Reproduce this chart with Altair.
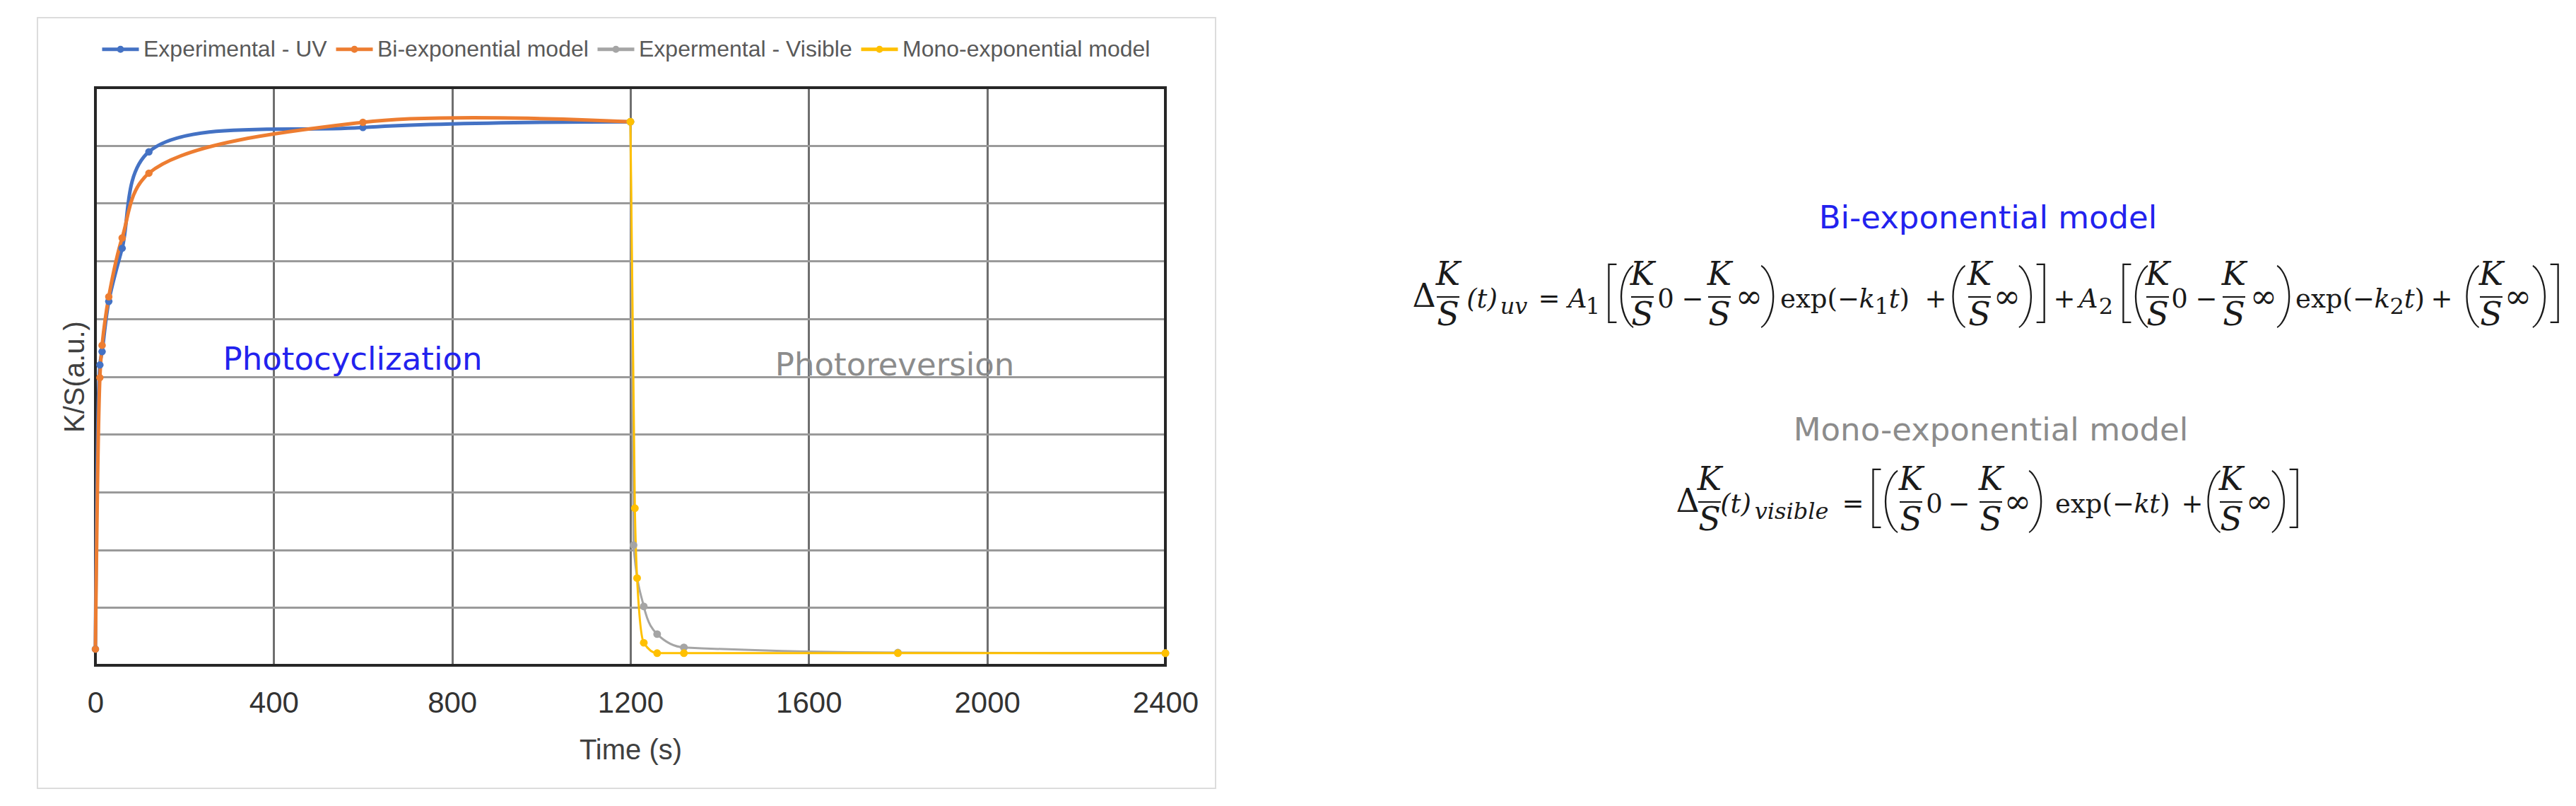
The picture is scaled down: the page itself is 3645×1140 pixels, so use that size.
import altair as alt
import pandas as pd

# ---------------- values ----------------
series_names = ["Experimental - UV", "Bi-exponential model",
                "Expermental - Visible", "Mono-exponential model"]
series_colors = ["#4472C4", "#ED7D31", "#A5A5A5", "#FFC000"]

uv_time = [0, 10, 15, 30, 60, 120, 600, 1200]
uv_experimental = [0.28, 5.20, 5.43, 6.30, 7.22, 8.89, 9.31, 9.41]
uv_biexp_model = [0.28, 4.98, 5.54, 6.38, 7.40, 8.52, 9.40, 9.41]

vis_exp_time = [1200, 1207, 1230, 1260, 1320, 1800, 2400]
vis_experimental = [9.41, 2.08, 1.02, 0.54, 0.31, 0.22, 0.21]

vis_model_time = [1200, 1210, 1215, 1230, 1260, 1320, 1800, 2400]
vis_monoexp_model = [9.41, 2.72, 1.51, 0.39, 0.21, 0.21, 0.21, 0.21]

x_tick_values = [0, 400, 800, 1200, 1600, 2000, 2400]
y_grid_values = [0, 1, 2, 3, 4, 5, 6, 7, 8, 9, 10]

# ---------------- layout ----------------
W, H = 1514, 817          # plot area
X0, Y0 = 135, 124         # page position of plot area
T_MAX, V_MAX = 2400, 10


def to_t(px):
    return (px - X0) * T_MAX / W


def to_v(py):
    return (Y0 + H - py) * V_MAX / H


LAB = "Liberation Sans, Arial, sans-serif"
SANS = "DejaVu Sans, Verdana, sans-serif"
SERIF = "DejaVu Serif, serif"
BLUE_TXT = "#2222ee"
GRAY_TXT = "#8c8c8c"
EQ_COLOR = "#1a1a1a"

series_data = pd.concat([
    pd.DataFrame({"t": uv_time, "v": uv_experimental, "series": series_names[0]}),
    pd.DataFrame({"t": uv_time, "v": uv_biexp_model, "series": series_names[1]}),
    pd.DataFrame({"t": vis_exp_time, "v": vis_experimental, "series": series_names[2]}),
    pd.DataFrame({"t": vis_model_time, "v": vis_monoexp_model, "series": series_names[3]}),
], ignore_index=True)

x_axis = alt.Axis(values=x_tick_values, title="Time (s)", grid=True, gridColor="#6f6f6f",
                  gridWidth=3, domain=False, ticks=False, tickSize=0, labelFont=LAB,
                  labelFontSize=42, labelColor="#333333", labelPadding=33, labelFlush=False,
                  labelOverlap=False, format="d", titleFont=LAB, titleFontSize=40,
                  titleFontWeight="normal", titleColor="#404040", titlePadding=26)
y_axis = alt.Axis(values=y_grid_values, title="K/S(a.u.)", grid=True, gridColor="#9a9a9a",
                  gridWidth=3, domain=False, ticks=False, tickSize=0, labels=False,
                  titleFont=LAB, titleFontSize=40, titleFontWeight="normal",
                  titleColor="#404040", titlePadding=9)
x_scale = alt.Scale(domain=[0, T_MAX], nice=False, zero=False)
y_scale = alt.Scale(domain=[0, V_MAX], nice=False, zero=False)
X = alt.X("t:Q", scale=x_scale, axis=x_axis)
Y = alt.Y("v:Q", scale=y_scale, axis=y_axis)

legend = alt.Legend(
    title=None, orient="none", legendX=7, legendY=-83, direction="horizontal",
    symbolType="M-1,0L1,0M-0.1,0A0.1,0.1,0,1,1,0.1,0A0.1,0.1,0,1,1,-0.1,0",
    symbolSize=2704, symbolStrokeWidth=5, labelFont=LAB, labelFontSize=32,
    labelColor="#595959", labelOffset=4, columnPadding=2, labelLimit=1000,
)
series_scale = alt.Scale(domain=series_names, range=series_colors)
stroke = alt.Stroke("series:N", scale=series_scale, legend=legend)
fill = alt.Fill("series:N", scale=series_scale, legend=None)

base = alt.Chart(series_data)
thick = base.transform_filter(alt.FieldOneOfPredicate(field="series", oneOf=series_names[:2]))
thin = base.transform_filter(alt.FieldOneOfPredicate(field="series", oneOf=series_names[2:]))

thick_lines = thick.mark_line(interpolate="catmull-rom", strokeWidth=5).encode(x=X, y=Y, stroke=stroke)
thick_pts = thick.mark_circle(size=110, opacity=1).encode(x=X, y=Y, fill=fill)
thin_lines = thin.mark_line(interpolate="monotone", strokeWidth=3).encode(x=X, y=Y, stroke=stroke)
thin_pts = thin.mark_circle(size=120, opacity=1).encode(x=X, y=Y, fill=fill)

one = pd.DataFrame({"k": [0]})
frame = alt.Chart(one).mark_rect(filled=False, stroke="#dcdcdc", strokeWidth=2).encode(
    x=alt.value(-82), x2=alt.value(1585), y=alt.value(-99), y2=alt.value(991))
border = alt.Chart(one).mark_rect(filled=False, stroke="#262626", strokeWidth=4).encode(
    x=alt.value(0), x2=alt.value(W), y=alt.value(0), y2=alt.value(H))

# ---------------- text annotations ----------------
blue_txt = pd.DataFrame({"text": ["Photocyclization", "Bi-exponential model"],
                         "t": [to_t(499), to_t(2813)], "v": [to_v(523), to_v(323)]})
gray_txt = pd.DataFrame({"text": ["Photoreversion", "Mono-exponential model"],
                         "t": [to_t(1266), to_t(2817)], "v": [to_v(531), to_v(623)]})
blue_layer = alt.Chart(blue_txt).mark_text(font=SANS, fontSize=45, color=BLUE_TXT, align="center",
                                           baseline="alphabetic").encode(x=X, y=Y, text="text:N")
gray_layer = alt.Chart(gray_txt).mark_text(font=SANS, fontSize=45, color=GRAY_TXT, align="center",
                                           baseline="alphabetic").encode(x=X, y=Y, text="text:N")

# ---------------- equations (small typesetter) ----------------
MAIN, SUB, FRAC, BIG, DELTA, INF = 37, 32, 46, 88, 46, 46
OFFSET = {"r": 15, "i": 15, "d": 14, "inf": 15, "sub": 24, "subi": 24,
          "fracK": -17, "fracS": 40, "big": 24}
eq_rows, bar_rows = [], []


def put(kind, text, cx, bar):
    if kind == "frac":
        put("fracK", "K", cx, bar)
        put("fracS", "S", cx, bar)
        bar_rows.append({"t": to_t(cx - 16), "t2": to_t(cx + 16), "v": to_v(bar)})
        return
    eq_rows.append({"kind": kind, "text": text, "t": to_t(cx), "v": to_v(bar + OFFSET[kind])})


def put_exp(x0, bar, digit):
    parts = [("r", "exp(\u2212", 3.024 * MAIN), ("i", "k", 0.58 * MAIN)]
    if digit:
        parts.append(("sub", digit, 0.64 * SUB))
    parts += [("i", "t", 0.40 * MAIN), ("r", ")", 0.39 * MAIN)]
    x = x0
    for kind, text, adv in parts:
        put(kind, text, x + adv / 2, bar)
        x += adv


INFTY = "\u221e"
eq1 = [("d", "\u0394", 2015), ("frac", "", 2049), ("i", "(t)", 2097), ("subi", "uv", 2142),
       ("r", "=", 2192), ("i", "A", 2232), ("sub", "1", 2254),
       ("big", "[(", 2290), ("frac", "", 2324), ("r", "0", 2357),
       ("r", "\u2212", 2395), ("frac", "", 2433), ("inf", INFTY, 2475), ("big", ")", 2504),
       ("exp", "1", 2519),
       ("r", "+", 2739), ("big", "(", 2769), ("frac", "", 2801), ("inf", INFTY, 2840),
       ("big", ")]", 2878),
       ("r", "+", 2921), ("i", "A", 2955), ("sub", "2", 2980),
       ("big", "[(", 3018), ("frac", "", 3053), ("r", "0", 3084),
       ("r", "\u2212", 3122), ("frac", "", 3161), ("inf", INFTY, 3203), ("big", ")", 3234),
       ("exp", "2", 3248),
       ("r", "+", 3455), ("big", "(", 3496), ("frac", "", 3525), ("inf", INFTY, 3563),
       ("big", ")]", 3605)]
eq2 = [("d", "\u0394", 2388), ("frac", "", 2419), ("i", "(t)", 2456), ("subi", "visible", 2535),
       ("r", "=", 2622), ("big", "[(", 2664), ("frac", "", 2704),
       ("r", "0", 2737), ("r", "\u2212", 2772), ("frac", "", 2817), ("inf", INFTY, 2855),
       ("big", ")", 2883), ("exp", "", 2908),
       ("r", "+", 3102), ("big", "(", 3130), ("frac", "", 3157), ("inf", INFTY, 3197),
       ("big", ")]", 3236)]

for tokens, bar in ((eq1, 420), (eq2, 710)):
    for kind, text, cx in tokens:
        if kind == "exp":
            put_exp(cx, bar, text)
        else:
            put(kind, text, cx, bar)

eq_df = pd.DataFrame(eq_rows)
bar_df = pd.DataFrame(bar_rows)

styles = {
    "r": dict(font=SERIF, fontSize=MAIN, fontStyle="normal"),
    "d": dict(font=SERIF, fontSize=DELTA, fontStyle="normal"),
    "inf": dict(font=SERIF, fontSize=INF, fontStyle="normal"),
    "i": dict(font=SERIF, fontSize=MAIN, fontStyle="italic"),
    "sub": dict(font=SERIF, fontSize=SUB, fontStyle="normal"),
    "subi": dict(font=SERIF, fontSize=SUB, fontStyle="italic"),
    "fracK": dict(font=SERIF, fontSize=FRAC, fontStyle="italic"),
    "fracS": dict(font=SERIF, fontSize=FRAC, fontStyle="italic"),
    "big": dict(font="Roboto", fontSize=BIG, fontWeight=100),
}
eq_layers = []
for kind, st in styles.items():
    eq_layers.append(
        alt.Chart(eq_df).transform_filter(alt.datum.kind == kind)
        .mark_text(align="center", baseline="alphabetic", color=EQ_COLOR, **st)
        .encode(x=X, y=Y, text="text:N"))
bar_layer = alt.Chart(bar_df).mark_rule(color=EQ_COLOR, strokeWidth=2.2).encode(
    x=X, x2="t2:Q", y=Y)

chart = alt.layer(
    frame, blue_layer, gray_layer, border,
    thick_lines, thick_pts, thin_lines, thin_pts,
    bar_layer, *eq_layers,
).properties(
    width=W, height=H,
    padding={"left": 44, "top": 16, "right": 5, "bottom": 5},
).configure_view(stroke=None)

chart.save("out.html", embed_options={"renderer": "svg", "actions": False})
